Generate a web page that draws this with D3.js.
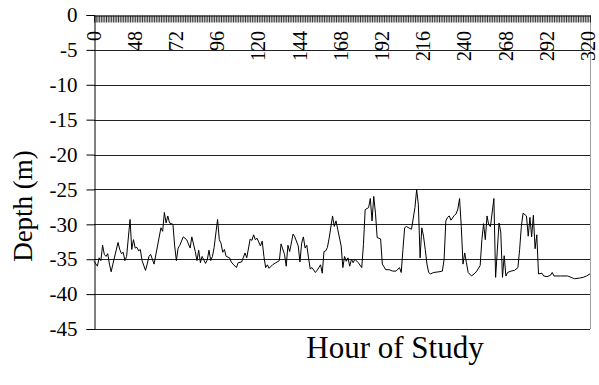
<!DOCTYPE html>
<html>
<head>
<meta charset="utf-8">
<script src="https://cdn.jsdelivr.net/npm/d3@7"></script>
<style>
  body { margin: 0; background: #fff; }
</style>
</head>
<body>
<div id="chart"></div>
<script>
// number of hourly categories on the x axis
var nHours = 290

// category labels, one every 24 categories
var tickLabels = ["0", "48", "72", "96", "120", "144", "168", "192", "216", "240", "268", "292", "320"]
var labelEvery = 24

var yTicks = [0, -5, -10, -15, -20, -25, -30, -35, -40, -45]

// vertices of the depth trace: category index and depth (m)
var hourIdx = [0, 2, 3, 4, 5, 6, 7, 8, 9, 10, 11, 14, 15, 16, 17, 18, 19, 21, 22, 23, 24, 25, 26, 27, 28, 30,
  31, 32, 33, 35, 37, 39, 40, 41, 42, 43, 44, 46, 47, 48, 49, 50, 52, 54, 56, 57, 59, 60, 61, 62, 63, 65,
  66, 67, 68, 69, 70, 72, 73, 74, 75, 76, 77, 79, 80, 81, 83, 84, 86, 88, 89, 91, 92, 93, 94, 95, 97, 98,
  99, 100, 101, 102, 104, 106, 108, 109, 111, 112, 113, 114, 116, 117, 119, 120, 121, 122, 123, 124, 125,
  126, 127, 129, 130, 132, 133, 134, 135, 136, 137, 139, 140, 141, 142, 144, 145, 146, 147, 148, 149, 150,
  151, 152, 154, 156, 157, 158, 160, 161, 162, 163, 164, 165, 167, 168, 170, 172, 174, 176, 178, 179, 180,
  181, 182, 184, 185, 187, 188, 189, 190, 191, 192, 193, 194, 195, 196, 198, 201, 203, 204, 205, 206, 207,
  208, 210, 211, 212, 213, 214, 215, 216, 217, 218, 220, 222, 223, 225, 226, 227, 228, 229, 230, 231, 233,
  234, 236, 237, 238, 239, 240, 241, 243, 245, 247, 248, 249, 250, 252, 253, 254, 255, 256, 257, 258, 259,
  261, 262, 264, 266, 267, 268, 272, 276, 278, 280, 283, 285, 287, 289]
var depth = [-35.3, -36.0, -34.8, -35.2, -33.0, -34.3, -34.6, -34.2, -35.7, -36.8, -35.7, -32.6, -33.6, -34.2,
  -34.0, -35.2, -34.6, -29.3, -33.6, -32.2, -33.4, -33.3, -33.8, -33.6, -35.2, -36.6, -35.7, -34.6, -34.3,
  -35.7, -33.1, -30.5, -31.0, -28.3, -29.8, -28.8, -29.8, -30.0, -33.1, -35.2, -33.4, -33.0, -31.8, -32.2,
  -33.4, -31.8, -33.9, -35.2, -33.7, -35.5, -34.6, -35.6, -35.1, -33.7, -35.2, -34.6, -33.3, -29.3, -32.2,
  -32.7, -34.0, -33.6, -34.6, -34.8, -35.4, -35.7, -36.2, -35.5, -35.4, -34.1, -34.8, -32.1, -32.3, -31.5,
  -32.2, -32.0, -33.1, -32.4, -34.6, -36.2, -35.8, -36.3, -35.8, -35.5, -35.2, -32.8, -34.3, -36.0, -33.0,
  -33.9, -31.4, -31.8, -33.1, -35.4, -32.7, -31.8, -33.4, -33.0, -34.8, -36.4, -36.2, -36.9, -36.6, -35.8,
  -37.0, -33.9, -33.8, -33.3, -32.0, -28.8, -30.3, -29.5, -30.7, -33.1, -36.2, -34.6, -35.3, -34.8, -36.0,
  -35.0, -35.5, -35.0, -35.5, -36.2, -32.9, -27.9, -27.6, -26.3, -29.5, -26.0, -28.4, -31.9, -32.1, -35.7,
  -36.5, -36.5, -36.7, -36.7, -36.2, -36.9, -33.6, -30.5, -30.3, -30.6, -30.7, -27.6, -25.0, -27.2, -34.8,
  -30.5, -31.7, -33.6, -35.7, -36.9, -37.1, -36.9, -36.8, -36.7, -35.0, -29.5, -29.0, -28.8, -29.4, -28.7,
  -28.5, -27.8, -26.3, -30.3, -35.7, -34.1, -35.5, -36.9, -37.4, -37.0, -36.7, -35.9, -32.2, -29.9, -32.2,
  -28.8, -30.1, -30.3, -26.3, -37.6, -29.8, -31.1, -37.6, -34.5, -37.4, -36.9, -36.7, -36.6, -36.2, -33.6,
  -30.3, -28.4, -28.8, -31.7, -29.0, -31.8, -28.7, -33.5, -31.5, -37.1, -37.0, -37.4, -37.5, -37.3, -36.9,
  -37.4, -37.4, -37.4, -37.6, -37.8, -37.7, -37.6, -37.4, -37.1]

var width = 599,
  height = 385
var plot = { left: 94, right: 590, top: 15, bottom: 329 }
var serif = "'Liberation Serif'"

var svg = d3.select("#chart")
  .append("svg")
  .attr("width", width)
  .attr("height", height)
  .style("font-family", serif)

var x = d3.scaleLinear()
  .domain([0, nHours - 1])
  .range([plot.left, plot.right])

var y = d3.scaleLinear()
  .domain([0, -45])
  .range([plot.top, plot.bottom])

// horizontal gridlines
svg.append("g")
  .selectAll("line")
  .data(yTicks.filter(function (d) { return d !== 0 }))
  .enter()
  .append("line")
  .attr("x1", plot.left)
  .attr("x2", plot.right)
  .attr("y1", function (d) { return Math.round(y(d)) + 0.5 })
  .attr("y2", function (d) { return Math.round(y(d)) + 0.5 })
  .attr("stroke", "#222")
  .attr("stroke-width", 1)

// right edge of the plot area
svg.append("line")
  .attr("x1", plot.right + 0.5)
  .attr("x2", plot.right + 0.5)
  .attr("y1", plot.top)
  .attr("y2", plot.bottom)
  .attr("stroke", "#a0a0a0")

// y axis
var yAxis = d3.axisLeft(y)
  .tickValues(yTicks)
  .tickSize(8)
  .tickPadding(9)
  .tickFormat(function (d) { return String(d) })

svg.append("g")
  .attr("transform", "translate(" + (plot.left + 0.5) + ",0)")
  .call(yAxis)
  .call(function (g) {
    g.attr("font-family", null).attr("font-size", null)
    g.selectAll("text").style("font-family", serif).style("font-size", "21px").attr("fill", "#000")
    g.selectAll("line").attr("stroke", "#000")
    g.select(".domain").attr("stroke", "#000")
  })

// x axis along depth 0, a tick per hour category
var xAxis = d3.axisBottom(x)
  .tickValues(d3.range(0, nHours))
  .tickSize(7)
  .tickSizeOuter(0)
  .tickFormat("")

svg.append("g")
  .attr("transform", "translate(0," + (plot.top + 0.5) + ")")
  .call(xAxis)
  .call(function (g) {
    g.selectAll("line").attr("stroke", "#000").attr("stroke-width", 0.8)
    g.select(".domain").attr("stroke", "#000")
  })

// category labels, rotated
svg.append("g")
  .selectAll("text")
  .data(tickLabels)
  .enter()
  .append("text")
  .attr("transform", function (d, i) {
    return "translate(" + x(i * labelEvery) + "," + 31 + ") rotate(-90)"
  })
  .attr("dy", "0.33em")
  .style("text-anchor", "end")
  .style("font-family", serif)
  .style("font-size", "20px")
  .text(function (d) { return d })

// the depth trace
var line = d3.line()
  .x(function (d) { return x(d.h) })
  .y(function (d) { return y(d.d) })

var points = hourIdx.map(function (h, i) { return { h: h, d: depth[i] } })

svg.append("path")
  .datum(points)
  .attr("d", line)
  .attr("fill", "none")
  .attr("stroke", "#000")
  .attr("stroke-width", 1)

// axis titles
svg.append("text")
  .attr("transform", "translate(32,206) rotate(-90)")
  .style("text-anchor", "middle")
  .style("font-family", serif)
  .style("font-size", "27px")
  .text("Depth (m)")

svg.append("text")
  .attr("x", 395)
  .attr("y", 358)
  .style("text-anchor", "middle")
  .style("font-family", serif)
  .style("font-size", "31px")
  .text("Hour of Study")
</script>
</body>
</html>
